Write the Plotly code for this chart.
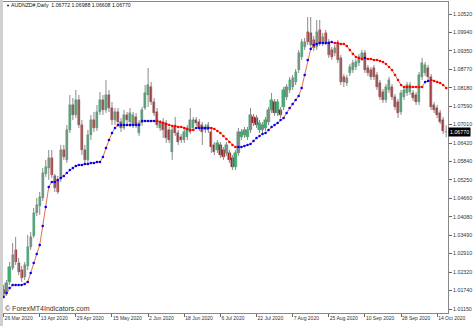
import plotly.graph_objects as go

# ---------------- data ----------------
dates = ["26 Mar 2020", "13 Apr 2020", "29 Apr 2020", "15 May 2020", "2 Jun 2020",
         "18 Jun 2020", "6 Jul 2020", "22 Jul 2020", "7 Aug 2020", "25 Aug 2020",
         "10 Sep 2020", "28 Sep 2020", "14 Oct 2020"]
date_idx = [0, 12, 24, 36, 48, 60, 72, 84, 96, 108, 120, 132, 144]

y_ticks = [1.10520, 1.09940, 1.09350, 1.08770, 1.08180, 1.07590, 1.07010, 1.06420,
           1.05840, 1.05250, 1.04660, 1.04080, 1.03490, 1.02910, 1.02320, 1.01740, 1.01150]

open_ = [
    1.01755, 1.01660, 1.02009, 1.02454, 1.03025, 1.02612, 1.02390, 1.02168, 1.02517, 1.03121,
    1.03470, 1.04200, 1.04423, 1.04677, 1.05439, 1.05629, 1.05947, 1.05375, 1.05248, 1.05312,
    1.06201, 1.05883, 1.06836, 1.07630, 1.07313, 1.07789, 1.06995, 1.06201, 1.05883, 1.06678,
    1.07154, 1.06900, 1.07408, 1.07789, 1.07471, 1.07948, 1.07535, 1.07154, 1.07408, 1.07090,
    1.06900, 1.07313, 1.07090, 1.06995, 1.07249, 1.06741, 1.07059, 1.07535, 1.07948, 1.08202,
    1.07725, 1.07408, 1.06900, 1.07090, 1.07059, 1.06836, 1.06138, 1.06932, 1.06741, 1.06614,
    1.06519, 1.06614, 1.06773, 1.06900, 1.07154, 1.07090, 1.06995, 1.06836, 1.06836, 1.06773,
    1.06360, 1.06201, 1.06360, 1.06201, 1.06106, 1.06106, 1.05947, 1.05661, 1.06106, 1.06614,
    1.06678, 1.06614, 1.06836, 1.07249, 1.07217, 1.06836, 1.06836, 1.06900, 1.07090, 1.07471,
    1.07725, 1.07376, 1.07471, 1.07567, 1.07884, 1.08107, 1.08202, 1.08361, 1.08742, 1.09155,
    1.09472, 1.09949, 1.09917, 1.09695, 1.09472, 1.10012, 1.09599, 1.09917, 1.09631, 1.09377,
    1.09282, 1.09599, 1.09123, 1.08520, 1.08329, 1.08647, 1.08742, 1.08837, 1.08964, 1.09123,
    1.09282, 1.08805, 1.08742, 1.08805, 1.08583, 1.08329, 1.08043, 1.07789, 1.08107, 1.08202,
    1.07884, 1.07725, 1.07408, 1.07884, 1.08011, 1.08043, 1.08011, 1.07948, 1.07725, 1.08520,
    1.08647, 1.08805, 1.08520, 1.07630, 1.07535, 1.07376, 1.07154, 1.06772]

high = [
    1.01913, 1.02072, 1.02644, 1.03247, 1.03438, 1.02771, 1.02517, 1.02644, 1.03502, 1.03597,
    1.04359, 1.04677, 1.04867, 1.05629, 1.05883, 1.06201, 1.06201, 1.05439, 1.05375, 1.06360,
    1.06360, 1.06995, 1.07948, 1.07852, 1.08107, 1.07948, 1.07154, 1.06360, 1.06836, 1.07313,
    1.07408, 1.07630, 1.08043, 1.07948, 1.08424, 1.08107, 1.07725, 1.07535, 1.07535, 1.07217,
    1.07471, 1.07408, 1.07535, 1.07408, 1.07376, 1.07154, 1.07567, 1.08265, 1.08805, 1.08361,
    1.07852, 1.07535, 1.07154, 1.07217, 1.07154, 1.06932, 1.06963, 1.07249, 1.06836, 1.06709,
    1.06868, 1.06995, 1.07535, 1.07249, 1.07249, 1.07186, 1.07090, 1.07027, 1.07090, 1.06868,
    1.06455, 1.06519, 1.06455, 1.06296, 1.06455, 1.06201, 1.06042, 1.06201, 1.06900, 1.06868,
    1.06932, 1.06932, 1.07535, 1.07344, 1.07313, 1.07154, 1.07090, 1.07249, 1.07567, 1.08011,
    1.07821, 1.07821, 1.07567, 1.08202, 1.08297, 1.08520, 1.08583, 1.08774, 1.09377, 1.09726,
    1.09758, 1.10425, 1.10425, 1.09822, 1.10330, 1.10330, 1.09917, 1.10012, 1.09726, 1.09472,
    1.09536, 1.09695, 1.09218, 1.08615, 1.08583, 1.08932, 1.09059, 1.09091, 1.09250, 1.09377,
    1.09377, 1.08901, 1.08837, 1.08901, 1.08678, 1.08424, 1.08138, 1.08297, 1.08520, 1.08297,
    1.07980, 1.07821, 1.08107, 1.08202, 1.08361, 1.08361, 1.08107, 1.08043, 1.08678, 1.09123,
    1.08996, 1.08901, 1.08615, 1.07725, 1.07630, 1.07471, 1.07249, 1.06988]

low = [
    1.01501, 1.01564, 1.01913, 1.02390, 1.02549, 1.02231, 1.02009, 1.02072, 1.02390, 1.03025,
    1.03406, 1.04105, 1.04137, 1.04581, 1.05344, 1.05248, 1.05312, 1.04867, 1.04804, 1.05185,
    1.05883, 1.05788, 1.06741, 1.07154, 1.07217, 1.06900, 1.06042, 1.05725, 1.05788, 1.06519,
    1.06773, 1.06805, 1.07313, 1.07313, 1.07376, 1.07408, 1.06995, 1.06995, 1.06932, 1.06773,
    1.06836, 1.06995, 1.06932, 1.06900, 1.06900, 1.06646, 1.06963, 1.07471, 1.07567, 1.07630,
    1.07281, 1.06900, 1.06805, 1.06582, 1.06423, 1.06423, 1.05883, 1.06646, 1.06360, 1.06423,
    1.06423, 1.06519, 1.06709, 1.06805, 1.06963, 1.06805, 1.06360, 1.06741, 1.06741, 1.06106,
    1.06042, 1.06106, 1.05947, 1.05883, 1.06011, 1.05788, 1.05566, 1.05566, 1.06011, 1.06519,
    1.06582, 1.06519, 1.06741, 1.06963, 1.06900, 1.06741, 1.06741, 1.06805, 1.06995, 1.07376,
    1.07281, 1.07281, 1.07217, 1.07471, 1.07789, 1.08011, 1.08107, 1.08265, 1.08647, 1.09059,
    1.09377, 1.09536, 1.09441, 1.09345, 1.09377, 1.09504, 1.09504, 1.09536, 1.09123, 1.09059,
    1.09186, 1.08964, 1.08265, 1.08202, 1.08234, 1.08551, 1.08647, 1.08742, 1.08869, 1.09028,
    1.08647, 1.08551, 1.08424, 1.08424, 1.08107, 1.07789, 1.07694, 1.07694, 1.08011, 1.07789,
    1.07471, 1.07217, 1.07313, 1.07789, 1.07916, 1.07948, 1.07757, 1.07630, 1.07630, 1.08424,
    1.08551, 1.08424, 1.07471, 1.07376, 1.07217, 1.07027, 1.06709, 1.06608]

close = [
    1.01628, 1.01977, 1.02485, 1.02867, 1.02644, 1.02327, 1.02136, 1.02549, 1.03121, 1.03438,
    1.04200, 1.04454, 1.04709, 1.05471, 1.05661, 1.05947, 1.05407, 1.04994, 1.04867, 1.06201,
    1.05979, 1.06836, 1.07630, 1.07313, 1.07789, 1.06995, 1.06201, 1.05883, 1.06678, 1.07154,
    1.06900, 1.07408, 1.07789, 1.07471, 1.07948, 1.07535, 1.07154, 1.07408, 1.07090, 1.06900,
    1.07313, 1.07154, 1.07376, 1.07313, 1.06995, 1.07059, 1.07471, 1.08011, 1.08265, 1.07725,
    1.07376, 1.06995, 1.07059, 1.06836, 1.06582, 1.06519, 1.06836, 1.06741, 1.06455, 1.06519,
    1.06773, 1.06900, 1.07154, 1.07154, 1.07059, 1.06900, 1.06773, 1.06932, 1.06995, 1.06296,
    1.06138, 1.06423, 1.06042, 1.05979, 1.06360, 1.05883, 1.05661, 1.06106, 1.06773, 1.06773,
    1.06836, 1.06836, 1.07313, 1.07059, 1.06995, 1.07059, 1.06995, 1.07154, 1.07471, 1.07789,
    1.07376, 1.07725, 1.07313, 1.08107, 1.08202, 1.08424, 1.08488, 1.08678, 1.09282, 1.09631,
    1.09631, 1.09631, 1.09536, 1.09441, 1.09949, 1.09599, 1.09790, 1.09631, 1.09218, 1.09155,
    1.09441, 1.09059, 1.08361, 1.08361, 1.08488, 1.08837, 1.08964, 1.08996, 1.09155, 1.09282,
    1.08742, 1.08647, 1.08520, 1.08520, 1.08202, 1.07884, 1.07789, 1.08202, 1.08424, 1.07884,
    1.07567, 1.07376, 1.08011, 1.08107, 1.08265, 1.08265, 1.07852, 1.07725, 1.08583, 1.08964,
    1.08901, 1.08520, 1.07567, 1.07471, 1.07313, 1.07090, 1.06805, 1.06770]

# trailing-stop style indicator (dots) and its direction: U = below price (blue), D = above (red)
indicator = [
    1.01533, 1.01660, 1.01818, 1.01913, 1.01913, 1.01913, 1.01913, 1.01945, 1.02009, 1.02295,
    1.02612, 1.02898, 1.03184, 1.03787, 1.04391, 1.05026, 1.05185, 1.05185, 1.05248, 1.05312,
    1.05375, 1.05471, 1.05566, 1.05629, 1.05693, 1.05725, 1.05725, 1.05756, 1.05756, 1.05788,
    1.05788, 1.05820, 1.05820, 1.05979, 1.06265, 1.06519, 1.06741, 1.06900, 1.06995, 1.06995,
    1.06995, 1.06995, 1.06995, 1.06995, 1.06995, 1.06995, 1.07122, 1.07122, 1.07122, 1.07122,
    1.07122, 1.07122, 1.07090, 1.07059, 1.07027, 1.06995, 1.06963, 1.06963, 1.06932, 1.06932,
    1.06900, 1.06868, 1.06836, 1.06836, 1.06900, 1.06900, 1.06900, 1.06900, 1.06900, 1.06900,
    1.06868, 1.06805, 1.06741, 1.06646, 1.06551, 1.06455, 1.06360, 1.06296, 1.06296, 1.06296,
    1.06328, 1.06360, 1.06392, 1.06487, 1.06582, 1.06646, 1.06709, 1.06741, 1.06836, 1.06932,
    1.06995, 1.07059, 1.07154, 1.07217, 1.07376, 1.07535, 1.07662, 1.07789, 1.07916, 1.08170,
    1.08583, 1.09059, 1.09409, 1.09536, 1.09568, 1.09599, 1.09599, 1.09599, 1.09599, 1.09631,
    1.09599, 1.09599, 1.09568, 1.09568, 1.09504, 1.09377, 1.09250, 1.09155, 1.09123, 1.09091,
    1.09123, 1.09091, 1.09091, 1.09059, 1.09059, 1.09028, 1.08996, 1.08932, 1.08837, 1.08742,
    1.08583, 1.08424, 1.08265, 1.08202, 1.08202, 1.08202, 1.08202, 1.08202, 1.08202, 1.08202,
    1.08361, 1.08393, 1.08424, 1.08393, 1.08361, 1.08329, 1.08265, 1.08170]

trend = ("UUUUUUUUUU" "UUUUUUUUUU" "UUUUUUUUUU" "UUUUUUUUUU" "UUUUUUUUUU"
         "UDDDDDDDDD" "DDDDUUUUUD" "DDDDDDDDUU" "UUUUUUUUUU" "UUUUUUUUUU"
         "UUUUUUUUUU" "DDDDDDDDDD" "UDDDDDDDDD" "DDDDDDDDDD" "UUDDDDDD")

symbol = "AUDNZD#,Daily"
watermark = "\u00a9 ForexMT4Indicators.com"

# ---------------- figure ----------------
n = len(close)
idx = list(range(n))
UP, DN = "#3cb371", "#b01e1e"
UP_EDGE, DN_EDGE = "#2e7d55", "#7a1515"

body_base = [min(o, c) for o, c in zip(open_, close)]
body_h = [max(abs(c - o), 0.00005) for o, c in zip(open_, close)]
body_col = [UP if c > o else DN for o, c in zip(open_, close)]
edge_col = [UP_EDGE if c > o else DN_EDGE for o, c in zip(open_, close)]

wx, wy = [], []
for i in idx:
    wx += [i, i, None]
    wy += [low[i], high[i], None]

fig = go.Figure()
fig.add_trace(go.Scatter(x=wx, y=wy, mode="lines", line=dict(color="#8a8a8a", width=1),
                         hoverinfo="skip"))
fig.add_trace(go.Bar(x=idx, y=body_h, base=body_base, width=0.75,
                     marker=dict(color=body_col, line=dict(color=edge_col, width=0.4))))
fig.add_trace(go.Scatter(x=idx, y=indicator, mode="lines",
                         line=dict(color="#e0603a", width=0.9)))
fig.add_trace(go.Scatter(x=[i for i in idx if trend[i] == "U"],
                         y=[indicator[i] for i in idx if trend[i] == "U"],
                         mode="markers", marker=dict(color="#0000ff", size=2.6)))
fig.add_trace(go.Scatter(x=[i for i in idx if trend[i] == "D"],
                         y=[indicator[i] for i in idx if trend[i] == "D"],
                         mode="markers", marker=dict(color="#ff0000", size=2.6)))

FONT = "Liberation Sans, Arial, sans-serif"
fig.update_layout(
    width=474, height=326, margin=dict(l=3, r=26, t=2, b=13),
    paper_bgcolor="white", plot_bgcolor="white", showlegend=False,
    barmode="overlay", bargap=0,
    font=dict(family=FONT, size=5, color="#222"),
)
fig.update_xaxes(range=[-0.2, 147.6], tickmode="array", tickvals=date_idx, ticktext=dates,
                 ticks="outside", ticklen=3, tickcolor="#666", tickwidth=1, tickangle=0,
                 ticklabelposition="outside right",
                 tickfont=dict(family=FONT, size=5, color="#333"),
                 showgrid=False, zeroline=False, showline=True, linecolor="#888",
                 linewidth=1, mirror=True)
fig.update_yaxes(range=[1.01023, 1.10901], side="right", tickmode="array",
                 tickvals=y_ticks, tickformat=".5f",
                 ticks="outside", ticklen=3, tickcolor="#666", tickwidth=1,
                 tickfont=dict(family=FONT, size=5.3, color="#333"),
                 showgrid=False, zeroline=False, showline=True, linecolor="#888",
                 linewidth=1, mirror=True)

# window frame strip
fig.add_shape(type="rect", xref="paper", yref="paper", x0=-0.0068, x1=0.0, y0=-0.05, y1=1.01,
              fillcolor="#d0d0d0", line=dict(width=0), layer="above")

last = n - 1
fig.add_annotation(xref="paper", yref="paper", x=0.003, y=0.99, xanchor="left", yanchor="middle",
                   text="\u25bc", showarrow=False, font=dict(family=FONT, size=4, color="#000"))
fig.add_annotation(xref="paper", yref="paper", x=0.0135, y=0.99, xanchor="left", yanchor="middle",
                   text=f"{symbol}  {open_[last]:.5f} {high[last]:.5f} {low[last]:.5f} {close[last]:.5f}",
                   showarrow=False, font=dict(family=FONT, size=5.2, color="#111"))
fig.add_annotation(xref="paper", yref="y", x=1.0, y=close[last], xanchor="left", yanchor="middle",
                   text=f"{close[last]:.5f}", showarrow=False, bgcolor="#000",
                   borderpad=1, font=dict(family=FONT, size=5.3, color="#fff"))
fig.add_annotation(xref="paper", yref="paper", x=0.0, y=0.016, xanchor="left", yanchor="middle",
                   text=watermark, showarrow=False, font=dict(family=FONT, size=7, color="#333"))

fig.write_html("out.html")
